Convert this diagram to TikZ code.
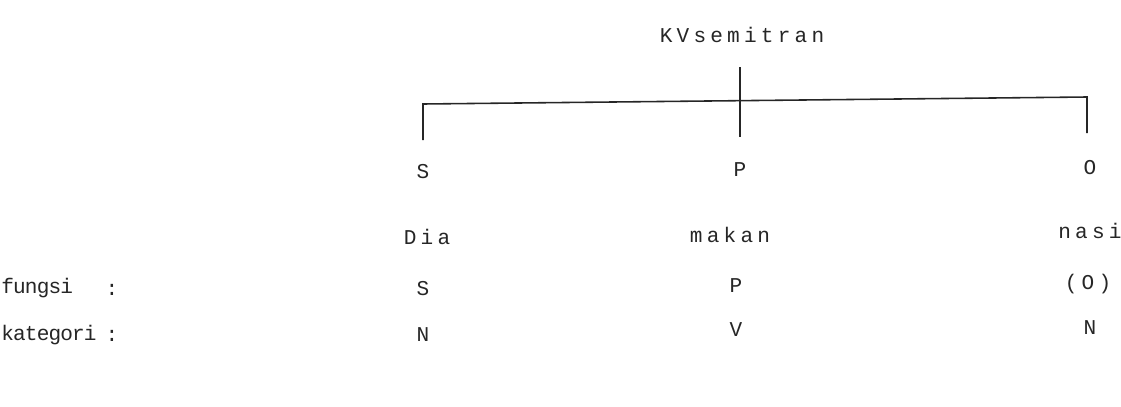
\documentclass[tikz,border=0pt]{standalone}
\usepackage{fontspec}
\newfontfamily\dotfont[LetterSpace=20]{Liberation Mono}
\newfontfamily\dotlabel[LetterSpace=-4]{Liberation Mono}

\begin{document}
\begin{tikzpicture}[x=0.02cm, y=-0.02cm]
\tikzstyle{word} = [inner sep=0pt, font=\dotfont\fontsize{12}{14}\selectfont, text=black!85]
\tikzstyle{rowlabel} = [word, anchor=west, font=\dotlabel\fontsize{12}{14}\selectfont]
\tikzstyle{tree} = [line width=0.9pt, black!85]

\useasboundingbox (0,0) rectangle (1121,406);

% root and constituents
\node (kv) [word] at (742,35) {KVsemitran};
\node (s1) [word] at (423,172) {S};
\node (p1) [word] at (740,170) {P};
\node (o1) [word] at (1090,168) {O};

% words of the sentence
\node (dia) [word] at (427,237) {Dia};
\node (makan) [word] at (730,235) {makan};
\node (nasi) [word] at (1090,231) {nasi};

% row labels
\node (fungsi) [rowlabel] at (1,288) {fungsi};
\node (kategori) [rowlabel] at (1,335) {kategori};
\node (c1) [word] at (112,290) {:};
\node (c2) [word] at (112,336) {:};

% fungsi row
\node (fs) [word] at (423,289) {S};
\node (fp) [word] at (736,286) {P};
\node (fo) [word] at (1088,284) {(O)};

% kategori row
\node (kn1) [word] at (423,335) {N};
\node (kv2) [word] at (736,330) {V};
\node (kn2) [word] at (1090,328) {N};

% branches
\coordinate (kvBot) at (740,67);
\coordinate (pTop) at (740,137);
\coordinate (sTop) at (423,140);
\coordinate (barL) at (423,104);
\coordinate (barR) at (1087,97);
\coordinate (oTop) at (1087,133);
\draw [tree] (kvBot) -- (pTop);
\draw [tree] (sTop) -- (barL) -- (barR) -- (oTop);

\end{tikzpicture}
\end{document}
